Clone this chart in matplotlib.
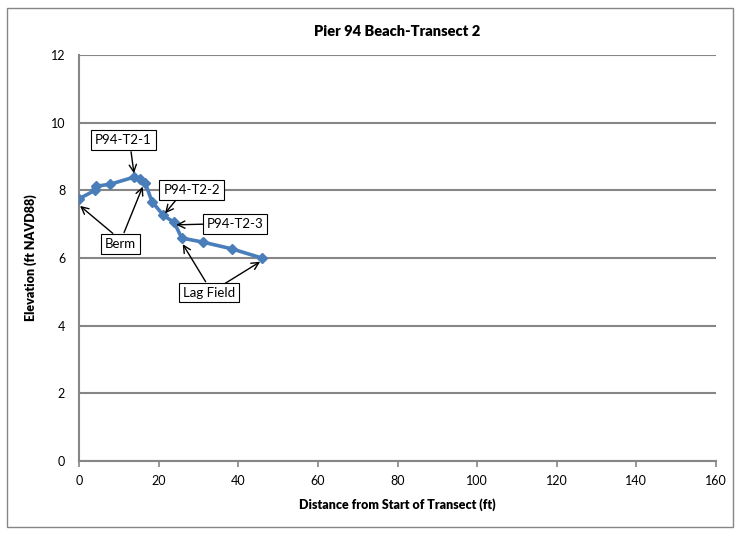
import matplotlib
matplotlib.use('Agg')
import matplotlib.pyplot as plt

# Transect profile (distance ft, elevation ft NAVD88)
distance = [0.0, 4.0, 4.2, 7.8, 13.8, 15.3, 16.6, 18.3, 21.2, 23.9, 25.8, 31.1, 38.4, 45.9]
elevation = [7.75, 8.0, 8.12, 8.18, 8.39, 8.33, 8.23, 7.67, 7.26, 7.05, 6.59, 6.47, 6.27, 6.0]

x_ticks = [0, 20, 40, 60, 80, 100, 120, 140, 160]
y_ticks = [0, 2, 4, 6, 8, 10, 12]

# label, label position, list of (arrow tail, arrow head)
callouts = [
    ("P94-T2-1", (11.2, 9.48), [((13.07, 9.14), (13.8, 8.5))]),
    ("P94-T2-2", (28.3, 8.02), [((24.4, 7.72), (21.6, 7.32))]),
    ("P94-T2-3", (39.2, 7.0), [((31.2, 7.0), (24.4, 6.98))]),
    ("Berm", (10.3, 6.42), [((8.47, 6.73), (0.25, 7.54)), ((11.3, 6.75), (16.0, 8.11))]),
    ("Lag Field", (32.7, 4.98), [((31.8, 5.3), (26.05, 6.41)), ((36.7, 5.25), (45.5, 5.89))]),
]

plt.rcParams['font.family'] = ['Lato', 'DejaVu Sans']

fig = plt.figure(figsize=(7.4, 5.35), dpi=100)
ax = fig.add_axes([0.1068, 0.1383, 0.8608, 0.7589])

grid_col = '#868686'
ax.set_xlim(0, 160)
ax.set_ylim(0, 12)
ax.set_xticks(x_ticks)
ax.set_yticks(y_ticks)
ax.yaxis.grid(True, color=grid_col, linewidth=1.5)
ax.set_axisbelow(True)
for s in ['top', 'right']:
    ax.spines[s].set_visible(False)
for s in ['left', 'bottom']:
    ax.spines[s].set_color(grid_col)
    ax.spines[s].set_linewidth(1.5)
ax.tick_params(axis='x', direction='out', length=4, color=grid_col, width=1.2, labelsize=9, pad=6)
ax.tick_params(axis='y', length=0, labelsize=9, pad=10)

ax.plot(distance, elevation, color='#4A7EBB', linewidth=2.6, marker='D',
        markersize=5.5, zorder=3)

for label, pos, arrows in callouts:
    ax.text(pos[0], pos[1], label, ha='center', va='center', fontsize=9.5, zorder=5,
            bbox=dict(boxstyle='square,pad=0.3', fc='white', ec='black', lw=0.8))
    for tail, head in arrows:
        ax.annotate('', xy=head, xytext=tail,
                    arrowprops=dict(arrowstyle='->', color='black', lw=1.0,
                                    mutation_scale=13, shrinkA=0, shrinkB=0),
                    zorder=4)

ax.set_title('Pier 94 Beach-Transect 2', fontsize=10.5, fontweight='heavy', pad=14)
ax.set_xlabel('Distance from Start of Transect (ft)', fontsize=9, fontweight='heavy', labelpad=8)
ax.set_ylabel('Elevation (ft NAVD88)', fontsize=9, fontweight='heavy', labelpad=10)

# outer chart border
fig.patches.append(plt.Rectangle((0.01, 0.015), 0.98, 0.97, transform=fig.transFigure,
                                 fill=False, edgecolor='#868686', linewidth=1.0))

fig.savefig('out.png', dpi=100)
